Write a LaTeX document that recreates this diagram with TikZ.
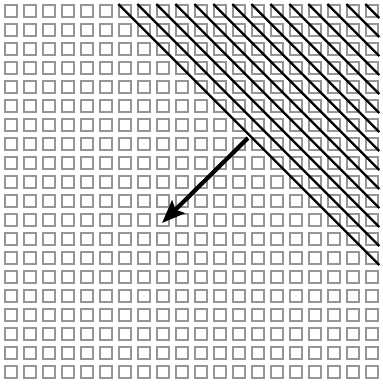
\documentclass[tikz,border=0pt]{standalone}
\usetikzlibrary{arrows.meta}
\definecolor{gridgray}{RGB}{150,150,150}
\begin{document}
\begin{tikzpicture}[x=1pt,y=-1pt,
  cell/.style={draw=gridgray,line width=2pt},
  hatch/.style={draw=black,line width=2.2pt},
  bigarrow/.style={draw=black,line width=4.2pt,-{Stealth[length=23pt,width=18pt,inset=4pt]}}]
\useasboundingbox[fill=white] (0,0) rectangle (383,386);
\foreach \i in {0,...,19}{
  \foreach \j in {0,...,19}{
    \draw[cell] ({5.3+19*\i},{5.3+19*\j}) rectangle ++(12,12);
  }
}
\foreach \c in {6,...,19}{
  \draw[hatch] ({4.3+19*\c},4) -- ({379.3},{4+19*(20-\c)-5});
}
\coordinate (tail) at (248,138);
\coordinate (head) at (162,223);
\draw[bigarrow] (tail) -- (head);
\end{tikzpicture}
\end{document}
